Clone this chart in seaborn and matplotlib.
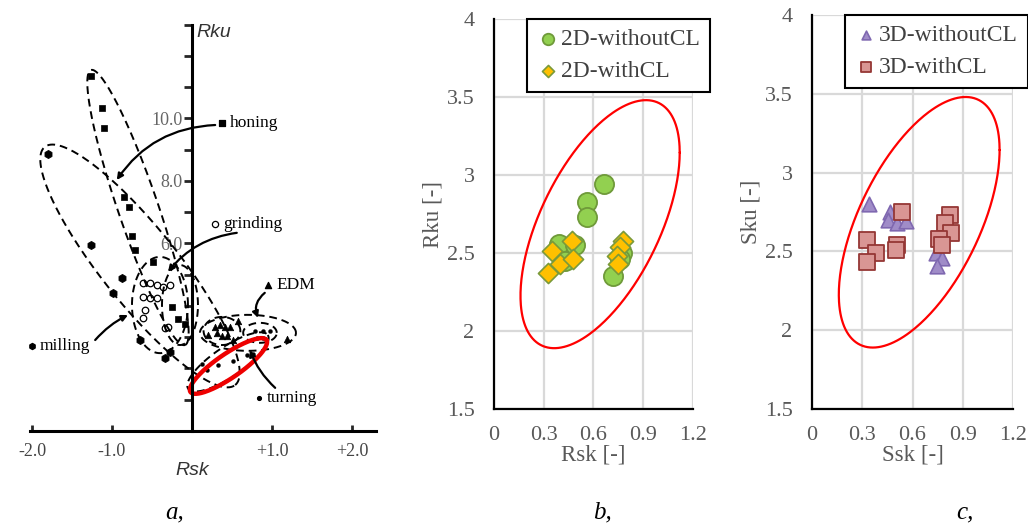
import numpy as np
import matplotlib
matplotlib.use("Agg")
import matplotlib.pyplot as plt
import seaborn as sns

# ------------------ DATOS ------------------
# panel a: mapa Rsk-Rku (esquema)
honing_rsk = [-1.26, -1.125, -1.10, -0.85, -0.79, -0.75, -0.71, -0.49, -0.25, -0.175, -0.09]
honing_rku = [11.36, 10.34, 9.70, 7.49, 7.17, 6.24, 5.79, 5.41, 3.97, 3.58, 3.42]
milling_rsk = [-1.80, -1.26, -0.875, -0.99, -0.65, -0.34, -0.275]
milling_rku = [8.86, 5.95, 4.90, 4.42, 2.91, 2.34, 2.53]
grinding_rsk = [-0.61, -0.525, -0.44, -0.36, -0.275, -0.61, -0.525, -0.44, -0.59, -0.61, -0.34, -0.30]
grinding_rku = [4.74, 4.74, 4.67, 4.61, 4.67, 4.29, 4.26, 4.26, 3.87, 3.62, 3.30, 3.33]
edm_rsk = [0.29, 0.35, 0.41, 0.475, 0.31, 0.375, 0.44, 0.51, 0.20, 0.575, 1.19]
edm_rku = [3.33, 3.39, 3.33, 3.33, 3.14, 3.04, 3.04, 2.91, 3.07, 3.52, 2.94]
turning_rsk = [0.79, 0.89, 0.975, 0.81, 0.89, 0.325, 0.51, 0.69, 0.76, 0.125, 0.19]
turning_rku = [3.20, 3.20, 3.20, 2.98, 2.98, 2.11, 2.24, 2.43, 2.46, 2.14, 1.95]

# elipses discontinuas: centro, semieje u, semieje v (unidades de datos)
a_ellipses = [
    ((-0.675, 7.15), (0.5875, -4.4), (0.2375, 0.208)),
    ((-0.65, 5.28), (1.19, -3.81), (0.371, 0.758)),
    ((-0.40, 4.03), (0.35, 0.0), (0.0, 1.54)),
    ((-0.15, 4.03), (0.225, 0.0), (0.0, 1.28)),
    ((0.70, 3.14), (0.60, 0.0), (0.0, 0.576)),
    ((0.375, 3.20), (0.23, 0.0), (0.0, 0.45)),
    ((0.85, 3.14), (0.21, 0.0), (0.0, 0.32)),
    ((0.45, 2.21), (0.4975, 0.86), (0.105, -0.398)),
]
a_red = ((0.456, 2.08), (0.475, 0.832), (0.085, -0.317))

# etiquetas: nombre, marcador, pos. marcador, inicio flecha, fin flecha, curvatura
a_labels = ["honing", "grinding", "EDM", "milling", "turning"]
a_label_marker = ["s", "o", "^", "h", "."]
a_label_pos = [(0.375, 9.86), (0.29, 6.62), (0.95, 4.67), (-2.0, 2.72), (0.84, 1.06)]
a_arrow_from = [(0.29, 9.79), (0.56, 6.34), (0.91, 4.42), (-1.21, 2.91), (1.04, 1.38)]
a_arrow_to = [(-0.94, 8.03), (-0.30, 5.09), (0.825, 3.62), (-0.80, 3.71), (0.725, 2.59)]
a_arrow_rad = [0.25, 0.2, 0.35, -0.1, -0.12]

# panel b: 2D
rsk_without = [0.665, 0.563, 0.559, 0.392, 0.489, 0.43, 0.72, 0.77, 0.76]
rku_without = [2.94, 2.83, 2.73, 2.56, 2.55, 2.45, 2.35, 2.50, 2.46]
rsk_with = [0.469, 0.348, 0.398, 0.478, 0.328, 0.78, 0.76, 0.74, 0.75]
rku_with = [2.58, 2.51, 2.43, 2.46, 2.37, 2.58, 2.54, 2.48, 2.43]

# panel c: 3D
ssk_without = [0.342, 0.466, 0.456, 0.506, 0.561, 0.740, 0.774, 0.748, 0.80]
sku_without = [2.80, 2.75, 2.70, 2.68, 2.69, 2.49, 2.46, 2.41, 2.66]
ssk_with = [0.539, 0.824, 0.794, 0.828, 0.76, 0.774, 0.327, 0.382, 0.327, 0.506, 0.501]
sku_with = [2.75, 2.73, 2.68, 2.62, 2.58, 2.54, 2.57, 2.49, 2.43, 2.54, 2.51]

# elipse roja (centro, semiancho, semialto, correlación)
red_center = (0.64, 2.685)
red_sx, red_sy, red_r = 0.48, 0.795, 0.577

xticks_bc = [0, 0.3, 0.6, 0.9, 1.2]
yticks_bc = [1.5, 2, 2.5, 3, 3.5, 4]


def ellipse_pts(c, u, v, n=300):
    t = np.linspace(0, 2 * np.pi, n)
    return (c[0] + u[0] * np.cos(t) + v[0] * np.sin(t),
            c[1] + u[1] * np.cos(t) + v[1] * np.sin(t))


# ------------------ FIGURA ------------------
sns.set_theme(style="white")
plt.rcParams["font.family"] = ["Liberation Serif", "DejaVu Serif"]

fig = plt.figure(figsize=(10.28, 5.26), dpi=100)

# ---- panel a ----
ax_a = fig.add_axes([0.0, 0.0875, 0.3696, 0.9125])
ax_a.set_xlim(-2.4, 2.35)
ax_a.set_ylim(-1.568, 13.79)
for s in ["top", "right"]:
    ax_a.spines[s].set_visible(False)
ax_a.spines["left"].set_position(("data", 0))
ax_a.spines["bottom"].set_position(("data", 0))
ax_a.spines["left"].set_bounds(0, 13)
ax_a.spines["bottom"].set_bounds(-2.03, 2.3)
for s in ["left", "bottom"]:
    ax_a.spines[s].set_linewidth(2.2)
    ax_a.spines[s].set_color("black")
ax_a.set_yticks(range(1, 14))
ax_a.set_yticklabels(["" if v not in (6, 8, 10) else f"{v}.0" for v in range(1, 14)])
ax_a.set_xticks([-2, -1, 1, 2])
ax_a.set_xticklabels(["-2.0", "-1.0", "+1.0", "+2.0"])
ax_a.tick_params(axis="y", direction="out", length=6, width=2, pad=1,
                 labelsize=13, labelcolor="#666666", left=True)
ax_a.tick_params(axis="x", direction="in", length=4, width=2, pad=9,
                 labelsize=13, labelcolor="#444444", bottom=True)
ax_a.text(0.06, 12.75, "Rku", family="Liberation Sans", style="italic",
          fontsize=14, color="#333333", va="center", ha="left")
ax_a.text(0.0, -1.25, "Rsk", family="Liberation Sans", style="italic",
          fontsize=14, color="#333333", va="center", ha="center")

for c, u, v in a_ellipses:
    ex, ey = ellipse_pts(c, u, v)
    ax_a.plot(ex, ey, color="black", lw=1.4, ls=(0, (4, 2.5)))
ex, ey = ellipse_pts(*a_red)
ax_a.plot(ex, ey, color="#ee0000", lw=3.2)

sns.scatterplot(x=honing_rsk, y=honing_rku, ax=ax_a, marker="s", s=20,
                color="black", edgecolor="black", linewidth=0.5)
sns.scatterplot(x=milling_rsk, y=milling_rku, ax=ax_a, marker="h", s=35,
                color="black", edgecolor="black", linewidth=0.5)
sns.scatterplot(x=grinding_rsk, y=grinding_rku, ax=ax_a, marker="o", s=22,
                facecolor="white", edgecolor="black", linewidth=0.9)
sns.scatterplot(x=edm_rsk, y=edm_rku, ax=ax_a, marker="^", s=22,
                color="black", edgecolor="black", linewidth=0.5)
sns.scatterplot(x=turning_rsk, y=turning_rku, ax=ax_a, marker="o", s=8,
                color="black", edgecolor="black", linewidth=0.3)

for name, mk, p, a0, a1, rad in zip(a_labels, a_label_marker, a_label_pos,
                                     a_arrow_from, a_arrow_to, a_arrow_rad):
    fc = "white" if mk == "o" else "black"
    sz = 8 if mk == "." else 20
    ax_a.scatter([p[0]], [p[1]], marker="o" if mk == "." else mk, s=sz,
                 facecolor=fc, edgecolor="black", linewidths=0.9, zorder=5)
    ax_a.text(p[0] + 0.1, p[1], name, fontsize=12.5, color="black",
              va="center", ha="left")
    ax_a.annotate("", xy=a1, xytext=a0,
                  arrowprops=dict(arrowstyle="-|>", color="black", lw=1.6,
                                  mutation_scale=9, shrinkA=0, shrinkB=0,
                                  connectionstyle=f"arc3,rad={rad}"))
ax_a.set_xlabel("")
ax_a.set_ylabel("")


# ---- paneles b y c ----
def style_bc(ax, xlabel, ylabel):
    ax.set_xlim(0, 1.2)
    ax.set_ylim(1.5, 4)
    ax.set_xticks(xticks_bc)
    ax.set_xticklabels(["0", "0.3", "0.6", "0.9", "1.2"])
    ax.set_yticks(yticks_bc)
    ax.set_yticklabels(["1.5", "2", "2.5", "3", "3.5", "4"])
    ax.grid(True, color="#d9d9d9", lw=1.6)
    ax.set_axisbelow(True)
    for s in ["top", "right"]:
        ax.spines[s].set_visible(False)
    for s in ["left", "bottom"]:
        ax.spines[s].set_color("black")
        ax.spines[s].set_linewidth(1.6)
        ax.spines[s].set_zorder(3)
    ax.tick_params(length=0, labelsize=16, labelcolor="#595959")
    ax.tick_params(axis="x", pad=12)
    ax.tick_params(axis="y", pad=14)
    ax.set_xlabel(xlabel, fontsize=16.5, color="#595959", labelpad=0)
    ax.set_ylabel(ylabel, fontsize=16.5, color="#595959", labelpad=2)
    ex, ey = ellipse_pts(red_center, (red_sx, red_r * red_sy),
                         (0.0, red_sy * np.sqrt(1 - red_r ** 2)))
    ax.plot(ex, ey, color="#ff0000", lw=1.6, zorder=2)


ax_b = fig.add_axes([0.4805, 0.2224, 0.1936, 0.7414])
sns.scatterplot(x=rsk_without, y=rku_without, ax=ax_b, marker="o", s=190,
                color="#92d050", edgecolor="#6f9a3a", linewidth=1.3,
                label="2D-withoutCL", zorder=4)
sns.scatterplot(x=rsk_with, y=rku_with, ax=ax_b, marker="D", s=105,
                color="#ffc000", edgecolor="#7a9a3a", linewidth=1.2,
                label="2D-withCL", zorder=5)
style_bc(ax_b, "Rsk [-]", "Rku [-]")
ax_b.legend(loc="upper left", bbox_to_anchor=(0.5126, 0.9639),
            bbox_transform=fig.transFigure, fontsize=17, markerscale=0.6,
            frameon=True, fancybox=False, edgecolor="black", framealpha=1,
            handletextpad=0.05, handlelength=1.0, borderpad=0.4,
            labelspacing=0.45, borderaxespad=0)
ax_b.get_legend().get_frame().set_linewidth(1.5)
for t in ax_b.get_legend().get_texts():
    t.set_color("#404040")

ax_c = fig.add_axes([0.7899, 0.2224, 0.1955, 0.749])
sns.scatterplot(x=ssk_without, y=sku_without, ax=ax_c, marker="^", s=110,
                color="#a08cc8", edgecolor="#7f68b0", linewidth=1.2,
                label="3D-withoutCL", zorder=4)
sns.scatterplot(x=ssk_with, y=sku_with, ax=ax_c, marker="s", s=125,
                color="#d99694", edgecolor="#953735", linewidth=1.3,
                label="3D-withCL", zorder=5)
style_bc(ax_c, "Ssk [-]", "Sku [-]")
ax_c.legend(loc="upper left", bbox_to_anchor=(0.822, 0.9715),
            bbox_transform=fig.transFigure, fontsize=17, markerscale=0.6,
            frameon=True, fancybox=False, edgecolor="black", framealpha=1,
            handletextpad=0.05, handlelength=1.0, borderpad=0.4,
            labelspacing=0.45, borderaxespad=0)
ax_c.get_legend().get_frame().set_linewidth(1.5)
for t in ax_c.get_legend().get_texts():
    t.set_color("#404040")

# letras de los paneles
for lbl, xp in [("a,", 175), ("b,", 602), ("c,", 965)]:
    fig.text(xp / 1028, 1 - 512 / 526, lbl, fontsize=18, style="italic",
             ha="center", va="center", color="black")

fig.savefig("out.png", dpi=100)
